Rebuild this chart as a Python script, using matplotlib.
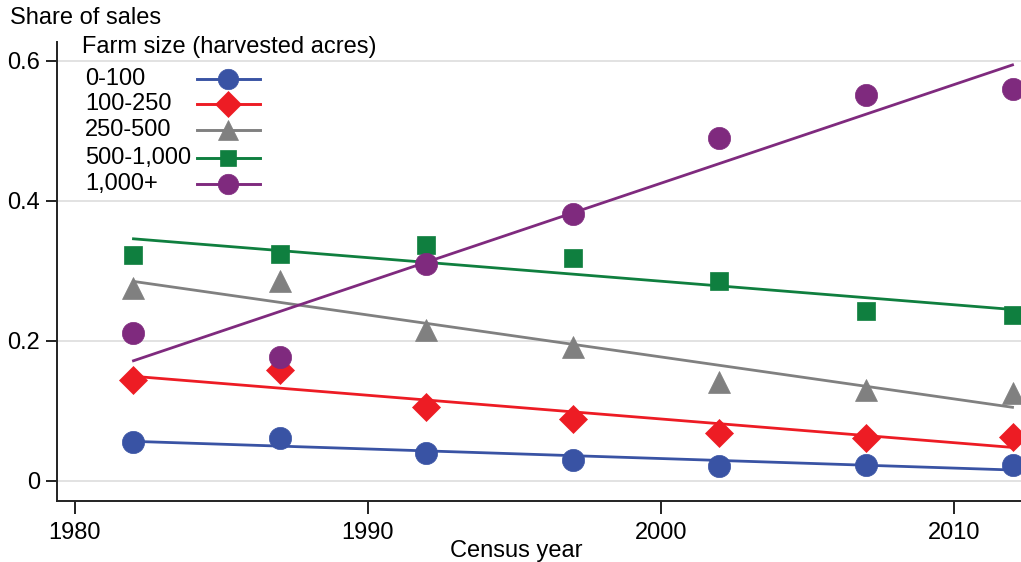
import numpy as np
import matplotlib
matplotlib.use("Agg")
import matplotlib.pyplot as plt
from matplotlib.lines import Line2D

plt.rcParams['font.family'] = ['Liberation Sans', 'DejaVu Sans']

# Census years and share of sales by farm size
years = [1982, 1987, 1992, 1997, 2002, 2007, 2012]
share_0_100 = [0.055, 0.061, 0.040, 0.030, 0.021, 0.023, 0.023]
share_100_250 = [0.144, 0.159, 0.106, 0.088, 0.069, 0.062, 0.063]
share_250_500 = [0.276, 0.286, 0.216, 0.191, 0.142, 0.130, 0.125]
share_500_1000 = [0.323, 0.324, 0.337, 0.318, 0.286, 0.243, 0.237]
share_1000_plus = [0.212, 0.177, 0.310, 0.381, 0.490, 0.551, 0.560]

size_labels = ["0-100", "100-250", "250-500", "500-1,000", "1,000+"]
series = [share_0_100, share_100_250, share_250_500, share_500_1000, share_1000_plus]
colors = ["#3953A4", "#ED1C24", "#808080", "#0F7F3F", "#7F2A7E"]
markers = ["o", "D", "^", "s", "o"]
msizes = [16, 14, 16, 13, 16]

x_ticks = [1980, 1990, 2000, 2010]
y_ticks = [0, 0.2, 0.4, 0.6]
y_ticklabels = ["0", "0.2", "0.4", "0.6"]

FS = 17
W, H = 1021, 562

fig = plt.figure(figsize=(W / 100, H / 100), dpi=100)
ax = fig.add_axes([57 / W, 1 - 501 / H, 1 - 57 / W, (501 - 42) / H])

x = np.array(years, dtype=float)
for vals, col, mk, ms in zip(series, colors, markers, msizes):
    y = np.array(vals)
    slope, intercept = np.polyfit(x, y, 1)
    ax.plot(x, slope * x + intercept, color=col, lw=2.0, zorder=2)
    ax.plot(x, y, linestyle="none", marker=mk, ms=ms, color=col,
            markeredgecolor=col, markeredgewidth=0.5, zorder=3, clip_on=False)

ax.set_xlim(1979.39, 2012.29)
ax.set_ylim(-0.0286, 0.627)
ax.set_xticks(x_ticks)
ax.set_xticklabels([str(t) for t in x_ticks])
ax.set_yticks(y_ticks)
ax.set_yticklabels(y_ticklabels)
ax.yaxis.grid(True, color="#DDDDDD", lw=1.2)
ax.set_axisbelow(True)

for side in ("top", "right"):
    ax.spines[side].set_visible(False)
for side in ("left", "bottom"):
    ax.spines[side].set_linewidth(1.4)
    ax.spines[side].set_color("#222222")

ax.tick_params(axis="both", labelsize=FS, width=1.4, color="#222222")
ax.tick_params(axis="y", length=8, pad=4)
ax.tick_params(axis="x", length=9, pad=6)

ax.set_xlabel("Census year", fontsize=FS)
ax.xaxis.set_label_coords((516 - 57) / (W - 57), -0.085)

fig.text(10 / W, 1 - 18 / H, "Share of sales", fontsize=FS, va="center", ha="left")

# Legend: left-aligned labels followed by a line-and-marker key
fig.text(82 / W, 1 - 47 / H, "Farm size (harvested acres)", fontsize=FS,
         va="center", ha="left")
row_y = [79, 104, 130, 158, 184]
for ry, lab, col, mk, ms in zip(row_y, size_labels, colors, markers, msizes):
    yf = 1 - ry / H
    fig.text(85 / W, yf, lab, fontsize=FS, va="center", ha="left")
    fig.add_artist(Line2D([197 / W, 260 / W], [yf, yf], color=col, lw=2.1,
                          transform=fig.transFigure))
    fig.add_artist(Line2D([228 / W], [yf], color=col, marker=mk, ms=ms * 0.92,
                          markeredgecolor=col, markeredgewidth=0.5,
                          linestyle="none", transform=fig.transFigure))

fig.savefig("out.png", dpi=100)
